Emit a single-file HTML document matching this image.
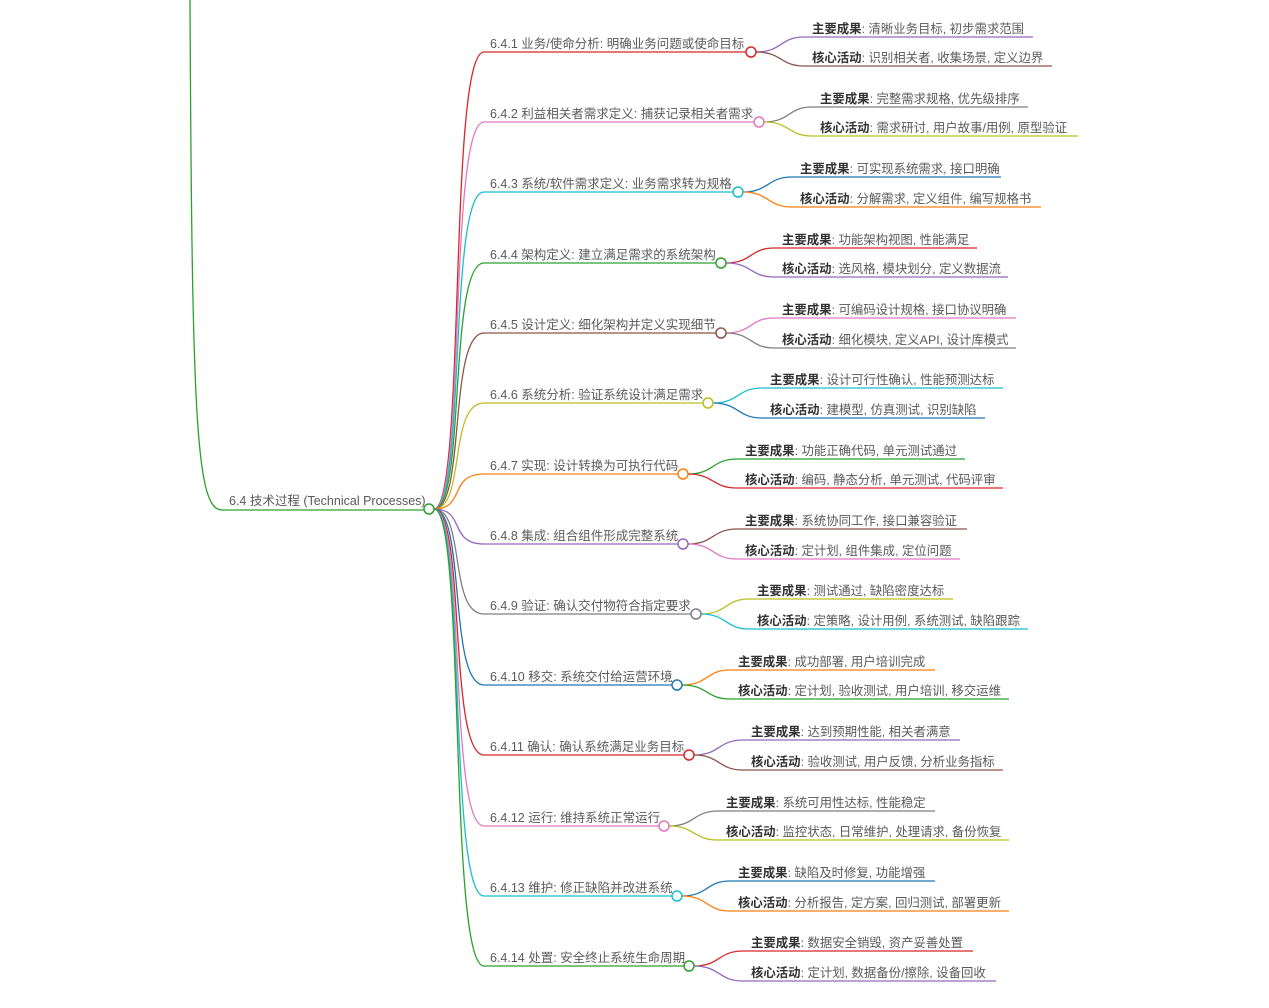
<!DOCTYPE html>
<html><head><meta charset="utf-8"><style>
html,body{margin:0;padding:0;background:#fff;}
svg{display:block;}
text{font-family:"Liberation Sans","Noto Sans CJK SC",sans-serif;fill:#5a5a5a;font-size:12.4px;}
.b{font-size:12.5px;}
.k{font-weight:bold;fill:#333;}
</style></head><body>
<svg width="1269" height="1008" viewBox="0 0 1269 1008" xmlns="http://www.w3.org/2000/svg" fill="none" stroke-width="1.3">
<path d="M190,0 C192,420 196,510 222,510 H424" stroke="#2ca02c"/>
<text x="229" y="505" class="b" stroke="none">6.4 技术过程 (Technical Processes)</text>

<g>
<path d="M434,509 C466,509 448,52 484,52 H746" stroke="#d62728"/>
<path d="M434,509 C466,509 448,122 484,122 H754" stroke="#e377c2"/>
<path d="M434,509 C466,509 448,192 484,192 H733" stroke="#17becf"/>
<path d="M434,509 C466,509 448,263 484,263 H716" stroke="#2ca02c"/>
<path d="M434,509 C466,509 448,333 484,333 H716" stroke="#8c564b"/>
<path d="M434,509 C466,509 448,403 484,403 H703" stroke="#bcbd22"/>
<path d="M434,509 C466,509 448,474 484,474 H678" stroke="#ff7f0e"/>
<path d="M434,509 C466,509 448,544 484,544 H678" stroke="#9467bd"/>
<path d="M434,509 C466,509 448,614 484,614 H691" stroke="#7f7f7f"/>
<path d="M434,509 C466,509 448,685 484,685 H672" stroke="#1f77b4"/>
<path d="M434,509 C466,509 448,755 484,755 H684" stroke="#d62728"/>
<path d="M434,509 C466,509 448,826 484,826 H659" stroke="#e377c2"/>
<path d="M434,509 C466,509 448,896 484,896 H672" stroke="#17becf"/>
<path d="M434,509 C466,509 448,966 484,966 H684" stroke="#2ca02c"/>
</g>
<circle cx="429" cy="509" r="5" fill="#fff" stroke="#2ca02c" stroke-width="1.5"/>

<g>
<path d="M756,52 C782,52 780,37 804,37 H1033" stroke="#9467bd"/>
<path d="M756,52 C782,52 780,66 804,66 H1052" stroke="#8c564b"/>
<path d="M764,122 C790,122 788,107 812,107 H1028" stroke="#7f7f7f"/>
<path d="M764,122 C790,122 788,136 812,136 H1078" stroke="#bcbd22"/>
<path d="M743,192 C769,192 767,177 792,177 H1001" stroke="#1f77b4"/>
<path d="M743,192 C769,192 767,207 792,207 H1041" stroke="#ff7f0e"/>
<path d="M726,263 C752,263 750,248 774,248 H977" stroke="#d62728"/>
<path d="M726,263 C752,263 750,277 774,277 H1008" stroke="#9467bd"/>
<path d="M726,333 C752,333 750,318 774,318 H1016" stroke="#e377c2"/>
<path d="M726,333 C752,333 750,348 774,348 H1016" stroke="#7f7f7f"/>
<path d="M713,403 C739,403 737,388 762,388 H1003" stroke="#17becf"/>
<path d="M713,403 C739,403 737,418 762,418 H985" stroke="#1f77b4"/>
<path d="M688,474 C714,474 712,459 737,459 H965" stroke="#2ca02c"/>
<path d="M688,474 C714,474 712,488 737,488 H1003" stroke="#d62728"/>
<path d="M688,544 C714,544 712,529 737,529 H967" stroke="#8c564b"/>
<path d="M688,544 C714,544 712,559 737,559 H960" stroke="#e377c2"/>
<path d="M701,614 C727,614 725,599 749,599 H953" stroke="#bcbd22"/>
<path d="M701,614 C727,614 725,629 749,629 H1028" stroke="#17becf"/>
<path d="M682,685 C708,685 706,670 730,670 H935" stroke="#ff7f0e"/>
<path d="M682,685 C708,685 706,699 730,699 H1009" stroke="#2ca02c"/>
<path d="M694,755 C720,755 718,740 743,740 H960" stroke="#9467bd"/>
<path d="M694,755 C720,755 718,770 743,770 H1003" stroke="#8c564b"/>
<path d="M669,826 C695,826 693,811 718,811 H935" stroke="#7f7f7f"/>
<path d="M669,826 C695,826 693,840 718,840 H1009" stroke="#bcbd22"/>
<path d="M682,896 C708,896 706,881 730,881 H935" stroke="#1f77b4"/>
<path d="M682,896 C708,896 706,911 730,911 H1009" stroke="#ff7f0e"/>
<path d="M694,966 C720,966 718,951 743,951 H973" stroke="#d62728"/>
<path d="M694,966 C720,966 718,981 743,981 H996" stroke="#9467bd"/>
</g>

<g fill="#fff" stroke-width="1.5">
<circle cx="751" cy="52" r="5" stroke="#d62728"/>
<circle cx="759" cy="122" r="5" stroke="#e377c2"/>
<circle cx="738" cy="192" r="5" stroke="#17becf"/>
<circle cx="721" cy="263" r="5" stroke="#2ca02c"/>
<circle cx="721" cy="333" r="5" stroke="#8c564b"/>
<circle cx="708" cy="403" r="5" stroke="#bcbd22"/>
<circle cx="683" cy="474" r="5" stroke="#ff7f0e"/>
<circle cx="683" cy="544" r="5" stroke="#9467bd"/>
<circle cx="696" cy="614" r="5" stroke="#7f7f7f"/>
<circle cx="677" cy="685" r="5" stroke="#1f77b4"/>
<circle cx="689" cy="755" r="5" stroke="#d62728"/>
<circle cx="664" cy="826" r="5" stroke="#e377c2"/>
<circle cx="677" cy="896" r="5" stroke="#17becf"/>
<circle cx="689" cy="966" r="5" stroke="#2ca02c"/>
</g>

<g stroke="none">
<text class="b" x="490" y="48">6.4.1 业务/使命分析: 明确业务问题或使命目标</text>
<text class="b" x="490" y="118">6.4.2 利益相关者需求定义: 捕获记录相关者需求</text>
<text class="b" x="490" y="188">6.4.3 系统/软件需求定义: 业务需求转为规格</text>
<text class="b" x="490" y="259">6.4.4 架构定义: 建立满足需求的系统架构</text>
<text class="b" x="490" y="329">6.4.5 设计定义: 细化架构并定义实现细节</text>
<text class="b" x="490" y="399">6.4.6 系统分析: 验证系统设计满足需求</text>
<text class="b" x="490" y="470">6.4.7 实现: 设计转换为可执行代码</text>
<text class="b" x="490" y="540">6.4.8 集成: 组合组件形成完整系统</text>
<text class="b" x="490" y="610">6.4.9 验证: 确认交付物符合指定要求</text>
<text class="b" x="490" y="681">6.4.10 移交: 系统交付给运营环境</text>
<text class="b" x="490" y="751">6.4.11 确认: 确认系统满足业务目标</text>
<text class="b" x="490" y="822">6.4.12 运行: 维持系统正常运行</text>
<text class="b" x="490" y="892">6.4.13 维护: 修正缺陷并改进系统</text>
<text class="b" x="490" y="962">6.4.14 处置: 安全终止系统生命周期</text>

<text x="812" y="33"><tspan class="k">主要成果</tspan>: 清晰业务目标, 初步需求范围</text>
<text x="812" y="62"><tspan class="k">核心活动</tspan>: 识别相关者, 收集场景, 定义边界</text>
<text x="820" y="103"><tspan class="k">主要成果</tspan>: 完整需求规格, 优先级排序</text>
<text x="820" y="132"><tspan class="k">核心活动</tspan>: 需求研讨, 用户故事/用例, 原型验证</text>
<text x="800" y="173"><tspan class="k">主要成果</tspan>: 可实现系统需求, 接口明确</text>
<text x="800" y="203"><tspan class="k">核心活动</tspan>: 分解需求, 定义组件, 编写规格书</text>
<text x="782" y="244"><tspan class="k">主要成果</tspan>: 功能架构视图, 性能满足</text>
<text x="782" y="273"><tspan class="k">核心活动</tspan>: 选风格, 模块划分, 定义数据流</text>
<text x="782" y="314"><tspan class="k">主要成果</tspan>: 可编码设计规格, 接口协议明确</text>
<text x="782" y="344"><tspan class="k">核心活动</tspan>: 细化模块, 定义API, 设计库模式</text>
<text x="770" y="384"><tspan class="k">主要成果</tspan>: 设计可行性确认, 性能预测达标</text>
<text x="770" y="414"><tspan class="k">核心活动</tspan>: 建模型, 仿真测试, 识别缺陷</text>
<text x="745" y="455"><tspan class="k">主要成果</tspan>: 功能正确代码, 单元测试通过</text>
<text x="745" y="484"><tspan class="k">核心活动</tspan>: 编码, 静态分析, 单元测试, 代码评审</text>
<text x="745" y="525"><tspan class="k">主要成果</tspan>: 系统协同工作, 接口兼容验证</text>
<text x="745" y="555"><tspan class="k">核心活动</tspan>: 定计划, 组件集成, 定位问题</text>
<text x="757" y="595"><tspan class="k">主要成果</tspan>: 测试通过, 缺陷密度达标</text>
<text x="757" y="625"><tspan class="k">核心活动</tspan>: 定策略, 设计用例, 系统测试, 缺陷跟踪</text>
<text x="738" y="666"><tspan class="k">主要成果</tspan>: 成功部署, 用户培训完成</text>
<text x="738" y="695"><tspan class="k">核心活动</tspan>: 定计划, 验收测试, 用户培训, 移交运维</text>
<text x="751" y="736"><tspan class="k">主要成果</tspan>: 达到预期性能, 相关者满意</text>
<text x="751" y="766"><tspan class="k">核心活动</tspan>: 验收测试, 用户反馈, 分析业务指标</text>
<text x="726" y="807"><tspan class="k">主要成果</tspan>: 系统可用性达标, 性能稳定</text>
<text x="726" y="836"><tspan class="k">核心活动</tspan>: 监控状态, 日常维护, 处理请求, 备份恢复</text>
<text x="738" y="877"><tspan class="k">主要成果</tspan>: 缺陷及时修复, 功能增强</text>
<text x="738" y="907"><tspan class="k">核心活动</tspan>: 分析报告, 定方案, 回归测试, 部署更新</text>
<text x="751" y="947"><tspan class="k">主要成果</tspan>: 数据安全销毁, 资产妥善处置</text>
<text x="751" y="977"><tspan class="k">核心活动</tspan>: 定计划, 数据备份/擦除, 设备回收</text>
</g>
</svg>
</body></html>
